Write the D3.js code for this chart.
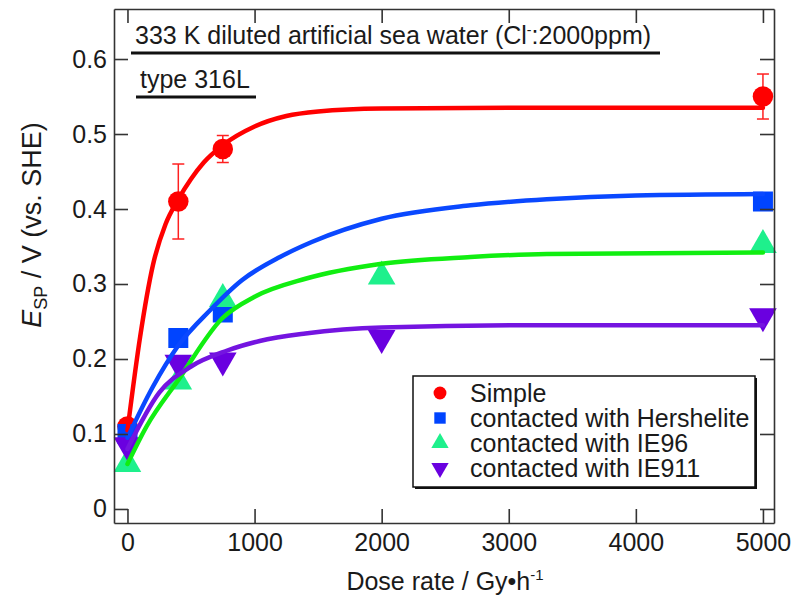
<!DOCTYPE html>
<meta charset="utf-8">
<style>
body { margin: 0; background: #fff; }
text { font-family: "Liberation Sans", Arial, sans-serif; fill: #1a1a1a; }
.axis path, .axis line { stroke: #333; stroke-width: 1.6px; }
.axis text { font-size: 25px; fill: #1a1a1a; font-family: "Liberation Sans", Arial, sans-serif; }
</style>
<svg width="794" height="604"></svg>
<script src="https://cdn.jsdelivr.net/npm/d3@7"></script>
<script>

// measured points
var simpleDose = [0, 400, 750, 5000];
var simpleE = [0.11, 0.41, 0.48, 0.55];
var simpleErr = [0, 0.05, 0.018, 0.03];

var hersDose = [0, 400, 750, 5000];
var hersE = [0.10, 0.228, 0.262, 0.41];

var ie96Dose = [0, 400, 750, 2000, 5000];
var ie96E = [0.06, 0.17, 0.28, 0.31, 0.352];

var ie911Dose = [0, 400, 750, 2000, 5000];
var ie911E = [0.085, 0.195, 0.198, 0.228, 0.257];

// fitted curves
var simpleFitDose = [0, 100, 200, 300, 400, 500, 600, 750, 1000, 1250, 1500, 2000, 3000, 5000];
var simpleFitE = [0.105, 0.23, 0.325, 0.38, 0.413, 0.44, 0.462, 0.485, 0.51, 0.524, 0.53, 0.534, 0.535, 0.535];

var hersFitDose = [0, 200, 400, 650, 900, 1200, 1450, 2000, 2700, 3300, 4000, 5000];
var hersFitE = [0.095, 0.163, 0.218, 0.265, 0.305, 0.336, 0.356, 0.387, 0.405, 0.413, 0.418, 0.42];

var ie96FitDose = [0, 150, 400, 750, 1000, 1400, 2000, 2700, 3300, 5000];
var ie96FitE = [0.06, 0.11, 0.172, 0.255, 0.283, 0.307, 0.327, 0.336, 0.34, 0.342];

var ie911FitDose = [0, 250, 500, 780, 1040, 1400, 2000, 3300, 5000];
var ie911FitE = [0.08, 0.155, 0.19, 0.211, 0.224, 0.234, 0.242, 0.245, 0.245];

var seriesNames = ["Simple", "contacted with Hershelite", "contacted with IE96", "contacted with IE911"];
var markerColors = ["#ff0000", "#0044ff", "#1ef08c", "#6a00e0"];
var lineColors = ["#ff0000", "#0a48ff", "#11ee11", "#7414e0"];
var shapes = [d3.symbolCircle, d3.symbolSquare, d3.symbolTriangle, "down"];

var xTicks = [0, 1000, 2000, 3000, 4000, 5000];
var yTicks = [0, 0.1, 0.2, 0.3, 0.4, 0.5, 0.6];

var svg = d3.select("svg");
var mLeft = 114, mRight = 774, mTop = 9, mBottom = 523;

var x = d3.scaleLinear().domain([-106, 5087]).range([mLeft, mRight]);
var y = d3.scaleLinear().domain([-0.0187, 0.6667]).range([mBottom, mTop]);

function zip(a, b) { return a.map(function(v, i) { return [v, b[i]]; }); }

var pts = [zip(simpleDose, simpleE), zip(hersDose, hersE), zip(ie96Dose, ie96E), zip(ie911Dose, ie911E)];
var fits = [zip(simpleFitDose, simpleFitE), zip(hersFitDose, hersFitE), zip(ie96FitDose, ie96FitE), zip(ie911FitDose, ie911FitE)];

function symbolPath(shape, size) {
  if (shape === "down") {
    return d3.symbol().type(d3.symbolTriangle).size(size)();
  }
  return d3.symbol().type(shape).size(size)();
}
var markerSize = [330, 400, 330, 330];

// error bars (Simple only)
var eb = svg.append("g").attr("stroke", "#ff2020").attr("stroke-width", 1.5);
pts[0].forEach(function(p, i) {
  var e = simpleErr[i];
  if (!e) return;
  var cx = x(p[0]);
  eb.append("line").attr("x1", cx).attr("x2", cx).attr("y1", y(p[1] - e)).attr("y2", y(p[1] + e));
  eb.append("line").attr("x1", cx - 6).attr("x2", cx + 6).attr("y1", y(p[1] - e)).attr("y2", y(p[1] - e));
  eb.append("line").attr("x1", cx - 6).attr("x2", cx + 6).attr("y1", y(p[1] + e)).attr("y2", y(p[1] + e));
});

// markers
pts.forEach(function(data, s) {
  svg.append("g").selectAll("path")
    .data(data)
    .enter().append("path")
      .attr("d", symbolPath(shapes[s], markerSize[s]))
      .attr("fill", markerColors[s])
      .attr("transform", function(d) {
        var t = "translate(" + x(d[0]) + "," + y(d[1]) + ")";
        if (shapes[s] === "down") t += " rotate(180)";
        return t;
      });
});

// fitted lines
var line = d3.line()
    .x(function(d) { return x(d[0]); })
    .y(function(d) { return y(d[1]); })
    .curve(d3.curveMonotoneX);

fits.forEach(function(data, s) {
  svg.append("path")
    .datum(data)
    .attr("d", line)
    .attr("fill", "none")
    .attr("stroke", lineColors[s])
    .attr("stroke-width", 4.5)
    .attr("stroke-linecap", "round");
});

// axes, ticks inward on all four sides
svg.append("g").attr("class", "axis")
    .attr("transform", "translate(0," + mBottom + ")")
    .call(d3.axisBottom(x).tickValues(xTicks).tickSize(-14).tickSizeOuter(0).tickPadding(10)
      .tickFormat(d3.format("d")));
svg.append("g").attr("class", "axis")
    .attr("transform", "translate(0," + mTop + ")")
    .call(d3.axisTop(x).tickValues(xTicks).tickSize(-14).tickSizeOuter(0).tickFormat(""));
svg.append("g").attr("class", "axis")
    .attr("transform", "translate(" + mLeft + ",0)")
    .call(d3.axisLeft(y).tickValues(yTicks).tickSize(-14).tickSizeOuter(0).tickPadding(7)
      .tickFormat(function(d) { return d === 0 ? "0" : d3.format(".1f")(d); }));
svg.append("g").attr("class", "axis")
    .attr("transform", "translate(" + mRight + ",0)")
    .call(d3.axisRight(y).tickValues(yTicks).tickSize(-14).tickSizeOuter(0).tickFormat(""));

// axis titles
var xt = svg.append("text")
    .attr("x", 445).attr("y", 590)
    .attr("text-anchor", "middle")
    .style("font-size", "25px");
xt.append("tspan").text("Dose rate / Gy\u2022h");
xt.append("tspan").attr("dy", -10).style("font-size", "15px").text("-1");

var yt = svg.append("text")
    .attr("transform", "translate(41,225) rotate(-90)")
    .attr("text-anchor", "middle")
    .style("font-size", "27px");
yt.append("tspan").style("font-style", "italic").text("E");
yt.append("tspan").attr("dy", 6).style("font-size", "18px").text("SP");
yt.append("tspan").attr("dy", -6).text(" / V (vs. SHE)");

// annotation
var a1 = svg.append("text").attr("x", 135).attr("y", 44).style("font-size", "25px");
a1.append("tspan").text("333 K diluted artificial sea water (Cl");
a1.append("tspan").attr("dy", -9).style("font-size", "14px").text("-");
a1.append("tspan").attr("dy", 9).text(":2000ppm)");
svg.append("line").attr("x1", 131).attr("x2", 660).attr("y1", 53).attr("y2", 53)
    .attr("stroke", "#111").attr("stroke-width", 3);

svg.append("text").attr("x", 140).attr("y", 88).style("font-size", "25px").text("type 316L");
svg.append("line").attr("x1", 136).attr("x2", 256).attr("y1", 97).attr("y2", 97)
    .attr("stroke", "#111").attr("stroke-width", 3);

// legend
var lg = svg.append("g");
lg.append("rect").attr("x", 415).attr("y", 378).attr("width", 342).attr("height", 111).attr("fill", "#111");
lg.append("rect").attr("x", 413).attr("y", 376).attr("width", 342).attr("height", 111)
    .attr("fill", "#fff").attr("stroke", "#111").attr("stroke-width", 1.5);
var legendY = [393, 418, 443, 468];
seriesNames.forEach(function(name, s) {
  lg.append("path")
    .attr("d", symbolPath(shapes[s], 130))
    .attr("fill", markerColors[s])
    .attr("transform", "translate(440," + legendY[s] + ")" + (shapes[s] === "down" ? " rotate(180)" : ""));
  lg.append("text").attr("x", 470).attr("y", legendY[s]).attr("dy", "0.36em")
    .style("font-size", "25px").text(name);
});

</script>
